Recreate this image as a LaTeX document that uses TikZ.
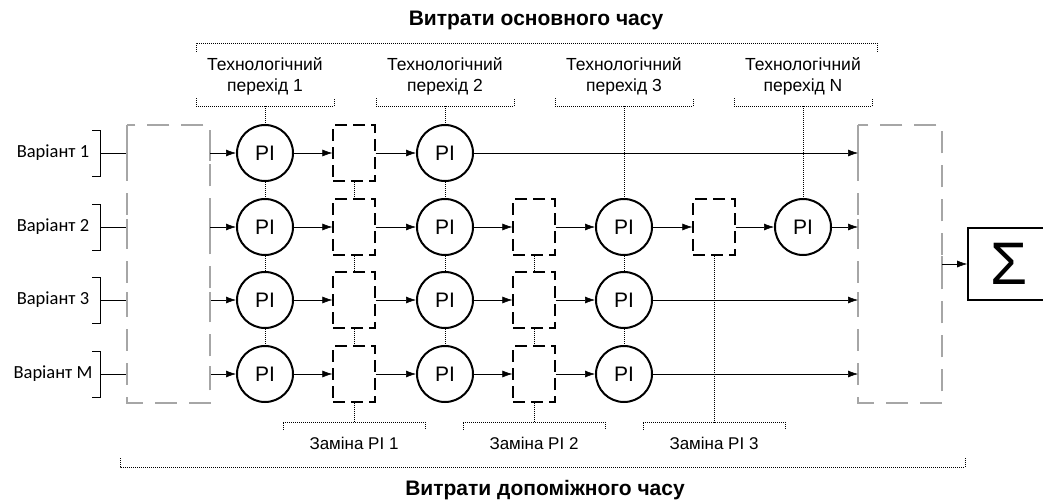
\documentclass[tikz,border=0pt]{standalone}
\usepackage{fontspec}
\setmainfont{Liberation Sans}
\newfontfamily\carl{Carlito}
\usetikzlibrary{arrows.meta}
\begin{document}
\begin{tikzpicture}[x=1pt,y=-1pt,
 pi/.style={circle,draw,line width=2pt,minimum size=56pt,inner sep=0pt,font=\fontsize{21}{21}\selectfont},
 rbox/.style={draw,line width=1.3pt,dash pattern=on 12pt off 6pt,minimum width=42pt,minimum height=56pt,inner sep=0pt},
 dotl/.style={line width=0.7pt,dash pattern=on 1pt off 1pt},
 arr/.style={line width=0.55pt,-{Latex[length=10pt,width=7pt]}},
 big/.style={draw=black!70,line width=0.5pt,double=black!35,double distance=1.3pt,dash pattern=on 22pt off 12pt},
 tick/.style={draw=black!70,line width=0.5pt,double=black!35,double distance=1.3pt},
 lbl/.style={font=\fontsize{17.5}{21}\selectfont,align=center},
 var/.style={font=\carl\fontsize{18.5}{18.5}\selectfont},
 title/.style={font=\bfseries\fontsize{21}{21}\selectfont},
 ]
\useasboundingbox (0,0) rectangle (1043,503);

% titles
\node[title] (ttop) at (536,20) {Витрати основного часу};
\node[title] (tbot) at (545,490) {Витрати допоміжного часу};

% circles
\foreach \r/\y in {1/153,2/227,3/300,4/374}{
  \node[pi] (a\r) at (265,\y) {PI};
  \node[pi] (b\r) at (445,\y) {PI};
  \node[rbox] (p1\r) at (354,\y) {};
  \coordinate (s\r) at (210,\y);
  \coordinate (l\r) at (127,\y);
  \coordinate (e\r) at (858,\y);
}
\foreach \r/\y in {2/227,3/300,4/374}{
  \node[pi] (c\r) at (624,\y) {PI};
  \node[rbox] (p2\r) at (534,\y) {};
}
\node[pi] (n2) at (803,227) {PI};
\node[rbox] (p32) at (714,227) {};

% variants
\foreach \r/\y/\t in {1/153/1,2/227/2,3/300/3,4/374/M}{
  \node[var] (v\r) at (53,\y) {Варіант \t};
  \coordinate (k\r) at (100,\y);
  \draw[line width=0.8pt] (k\r) ++(-8,-23) -- ++(8,0) -- ++(0,46) -- ++(-8,0);
  \draw[line width=0.8pt] (k\r) -- (l\r);
  \draw[tick] (l\r) ++(0,-8) -- ++(0,16);
  \draw[tick] (s\r) ++(0,-8) -- ++(0,16);
  \draw[tick] (e\r) ++(0,-8) -- ++(0,16);
  \draw[arr] (s\r) -- (a\r);
}

% big boxes
\draw[big] (127,125) rectangle (210,403);
\draw[big] (858,125) rectangle (942,403);

% arrows
\draw[arr] (a1) -- (p11.west);
\draw[arr] (p11.east) -- (b1);
\draw[arr] (b1) -- (e1);
\draw[arr] (a2) -- (p12.west);
\draw[arr] (p12.east) -- (b2);
\draw[arr] (b2) -- (p22.west);
\draw[arr] (p22.east) -- (c2);
\draw[arr] (c2) -- (p32.west);
\draw[arr] (p32.east) -- (n2);
\draw[arr] (n2) -- (e2);
\foreach \r in {3,4}{
  \draw[arr] (a\r) -- (p1\r.west);
  \draw[arr] (p1\r.east) -- (b\r);
  \draw[arr] (b\r) -- (p2\r.west);
  \draw[arr] (p2\r.east) -- (c\r);
  \draw[arr] (c\r) -- (e\r);
}

% vertical dotted links
\draw[dotl] (a1.south) -- (a2.north) (a2.south) -- (a3.north) (a3.south) -- (a4.north);
\draw[dotl] (b1.south) -- (b2.north) (b2.south) -- (b3.north) (b3.south) -- (b4.north);
\draw[dotl] (c2.south) -- (c3.north) (c3.south) -- (c4.north);
\draw[dotl] (p11.south) -- (p12.north) (p12.south) -- (p13.north) (p13.south) -- (p14.north);
\draw[dotl] (p22.south) -- (p23.north) (p23.south) -- (p24.north);

% top brackets
\foreach \i/\x/\t/\tgt in {1/265/1/a1,2/445/2/b1,3/624/3/c2,4/803/N/n2}{
  \coordinate (t\i) at (\x,106);
  \draw[dotl] (t\i) ++(-69,-8) -- ++(0,8) -- ++(138,0) -- ++(0,-8);
  \draw[dotl] (t\i) -- (\tgt.north);
  \node[lbl] (tl\i) at (\x,76) {Технологічний\\перехід \t};
}
\coordinate (T) at (536,43);
\draw[dotl] (T) ++(-340,9) -- ++(0,-9) -- ++(681,0) -- ++(0,9);

% bottom brackets
\foreach \i/\x/\src in {1/354/p14,2/534/p24,3/714/p32}{
  \coordinate (u\i) at (\x,422);
  \draw[dotl] (u\i) ++(-71,8) -- ++(0,-8) -- ++(142,0) -- ++(0,8);
  \draw[dotl] (\src.south) -- (u\i);
  \node[lbl,font=\fontsize{17}{18}\selectfont] (ul\i) at (\x,443) {Заміна PI \i};
}
\coordinate (B) at (543,467);
\draw[dotl] (B) ++(-423,-9) -- ++(0,9) -- ++(845,0) -- ++(0,-9);

% sum
\node[draw,line width=1.6pt,minimum width=82pt,minimum height=72pt,inner sep=0pt,font=\fontsize{60}{60}\selectfont] (sum) at (1009,264) {Σ};
\coordinate (o) at (942,264);
\draw[tick] (o) ++(0,-8) -- ++(0,16);
\draw[arr] (o) -- (sum.west);
\end{tikzpicture}
\end{document}
